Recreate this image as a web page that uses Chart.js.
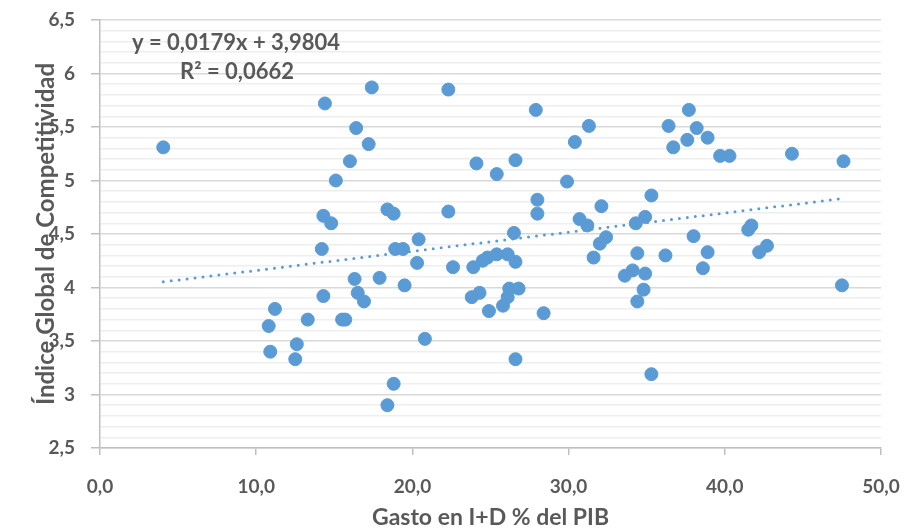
<!DOCTYPE html>
<html>
<head>
<meta charset="utf-8">
<script src="https://cdn.jsdelivr.net/npm/chart.js@4.4.1/dist/chart.umd.min.js"></script>
<style>
  html, body { margin: 0; padding: 0; background: #fff; }
  #wrap { width: 905px; height: 528px; }
</style>
</head>
<body>
<div id="wrap"><canvas id="myChart" width="905" height="528"></canvas></div>
<script>
// Gasto en I+D (% del PIB)
var gastoID = [
  4.05, 10.8, 10.9, 11.2, 12.5, 12.6, 13.3, 14.2, 14.3, 14.3,
  14.4, 14.8, 15.1, 15.5, 15.7, 16.0, 16.3, 16.4, 16.5, 16.9,
  17.2, 17.4, 17.9, 18.4, 18.4, 18.8, 18.8, 18.9, 19.4, 19.5,
  20.3, 20.4, 20.8, 22.3, 22.3, 22.6, 23.8, 23.9, 24.1, 24.3,
  24.5, 24.8, 24.9, 25.4, 25.4, 25.8, 26.1, 26.1, 26.2, 26.5,
  26.6, 26.6, 26.6, 26.8, 27.9, 28.0, 28.0, 28.4, 29.9, 30.4,
  30.7, 31.2, 31.3, 31.6, 32.0, 32.1, 32.4, 33.6, 34.1, 34.3,
  34.4, 34.4, 34.8, 34.9, 34.9, 35.3, 35.3, 36.2, 36.4, 36.7,
  37.6, 37.7, 38.0, 38.2, 38.6, 38.9, 38.9, 39.7, 40.3, 41.5,
  41.7, 42.2, 42.7, 44.3, 47.5, 47.6
];
// Índice Global de Competitividad
var indice = [
  5.31, 3.64, 3.40, 3.80, 3.33, 3.47, 3.70, 4.36, 4.67, 3.92,
  5.72, 4.60, 5.00, 3.70, 3.70, 5.18, 4.08, 5.49, 3.95, 3.87,
  5.34, 5.87, 4.09, 4.73, 2.90, 4.69, 3.10, 4.36, 4.36, 4.02,
  4.23, 4.45, 3.52, 5.85, 4.71, 4.19, 3.91, 4.19, 5.16, 3.95,
  4.25, 4.28, 3.78, 4.31, 5.06, 3.83, 4.31, 3.91, 3.99, 4.51,
  4.24, 5.19, 3.33, 3.99, 5.66, 4.82, 4.69, 3.76, 4.99, 5.36,
  4.64, 4.58, 5.51, 4.28, 4.41, 4.76, 4.47, 4.11, 4.16, 4.60,
  4.32, 3.87, 3.98, 4.66, 4.13, 4.86, 3.19, 4.30, 5.51, 5.31,
  5.38, 5.66, 4.48, 5.49, 4.18, 5.40, 4.33, 5.23, 5.23, 4.54,
  4.58, 4.33, 4.39, 5.25, 4.02, 5.18
];
var xTicks = [0, 10, 20, 30, 40, 50];

// linear trend (Excel)
var pendiente = 0.0179;
var intercepto = 3.9804;
var textoEcuacion = "y = 0,0179x + 3,9804";
var textoR2 = "R² = 0,0662";

var azul = "#5b9bd5";
var gris = "#595959";
var fuente = "Lato";

var puntos = gastoID.map(function (x, i) { return { x: x, y: indice[i] }; });
var xMin = Math.min.apply(null, gastoID);
var xMax = Math.max.apply(null, gastoID);
var tendencia = [
  { x: xMin, y: pendiente * xMin + intercepto },
  { x: xMax, y: pendiente * xMax + intercepto }
];

function esMayor(v) {
  return Math.abs(v * 2 - Math.round(v * 2)) < 1e-6;
}

var ecuacionPlugin = {
  id: "ecuacion",
  afterDatasetsDraw: function (chart) {
    var c = chart.ctx;
    c.save();
    c.fillStyle = gris;
    c.font = "bold 22px " + fuente;
    c.textAlign = "center";
    c.textBaseline = "middle";
    c.fillText(textoEcuacion, 236, 43);
    c.fillText(textoR2, 237, 72);
    c.restore();
  }
};

var ctx = document.getElementById("myChart").getContext("2d");
var myChart = new Chart(ctx, {
  type: "scatter",
  data: {
    datasets: [
      {
        type: "line",
        label: "Lineal",
        data: tendencia,
        borderColor: azul,
        borderWidth: 3,
        borderDash: [0, 8],
        borderCapStyle: "round",
        pointRadius: 0,
        fill: false
      },
      {
        label: "Países",
        data: puntos,
        backgroundColor: azul,
        borderColor: azul,
        borderWidth: 1,
        pointRadius: 6.5,
        pointHoverRadius: 6.5
      }
    ]
  },
  options: {
    responsive: false,
    animation: false,
    layout: { padding: { left: 0, right: 24, top: 20, bottom: 0 } },
    plugins: {
      legend: { display: false },
      tooltip: { enabled: false }
    },
    scales: {
      x: {
        type: "linear",
        min: 0,
        max: 50,
        afterBuildTicks: function (scale) {
          scale.ticks = xTicks.map(function (v) { return { value: v }; });
        },
        afterFit: function (scale) {
          scale.height = 80;
          scale.paddingLeft = 0;
          scale.paddingRight = 0;
        },
        ticks: {
          color: gris,
          font: { family: fuente, size: 19, weight: "bold" },
          padding: 20,
          maxRotation: 0,
          callback: function (v) { return v.toFixed(1).replace(".", ","); }
        },
        grid: {
          drawOnChartArea: false,
          drawTicks: true,
          tickLength: 7,
          tickColor: "#bfbfbf",
          lineWidth: 1.5
        },
        border: { color: "#bfbfbf", width: 1.5 },
        title: {
          display: true,
          text: "Gasto en I+D % del PIB",
          color: gris,
          font: { family: fuente, size: 23, weight: "bold", lineHeight: 1 },
          padding: { top: 0, bottom: -1 }
        }
      },
      y: {
        type: "linear",
        min: 2.5,
        max: 6.5,
        afterFit: function (scale) {
          scale.width = 100;
          scale.paddingTop = 0;
          scale.paddingBottom = 0;
        },
        ticks: {
          stepSize: 0.1,
          autoSkip: false,
          color: gris,
          font: { family: fuente, size: 19, weight: "bold" },
          padding: 16,
          callback: function (v) {
            if (!esMayor(v)) return "";
            var r = Math.round(v * 2) / 2;
            return String(r).replace(".", ",");
          }
        },
        grid: {
          color: function (c) { return esMayor(c.tick.value) ? "#d9d9d9" : "#eeeeee"; },
          lineWidth: 1.5,
          tickLength: 9,
          tickColor: function (c) { return esMayor(c.tick.value) ? "#bfbfbf" : "rgba(0,0,0,0)"; }
        },
        border: { color: "#bfbfbf", width: 1.5 },
        title: {
          display: true,
          text: "Índice Global de Competitividad",
          color: gris,
          font: { family: fuente, size: 24, weight: "bold", lineHeight: 1.2 },
          padding: { top: 32, bottom: 0 }
        }
      }
    }
  },
  plugins: [ecuacionPlugin]
});
</script>
</body>
</html>
